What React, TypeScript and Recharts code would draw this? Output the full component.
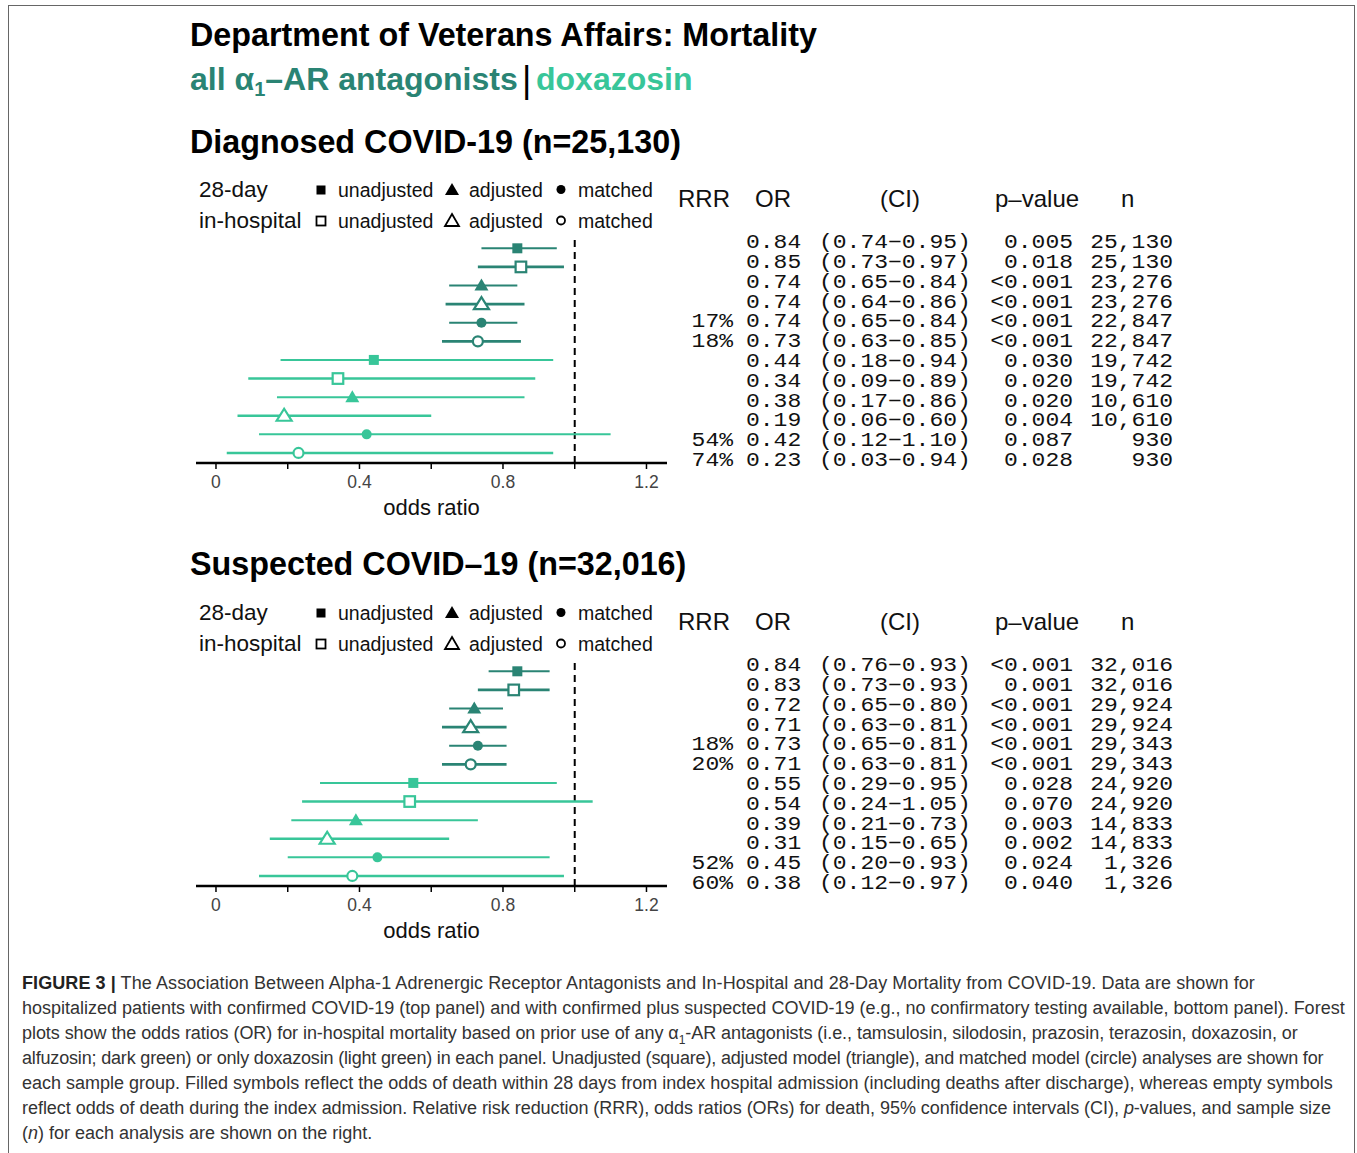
import React from 'react';
import { ScatterChart, Scatter, XAxis, YAxis, ErrorBar, ReferenceLine, Legend } from 'recharts';

const DARK = '#2a8474';
const LIGHT = '#38c699';
const SANS = "'Liberation Sans', Arial, sans-serif";
const MONO = "'Liberation Mono', 'Courier New', monospace";

// row layout, top to bottom (same in both panels)
const rowGroups = ['all', 'all', 'all', 'all', 'all', 'all', 'dox', 'dox', 'dox', 'dox', 'dox', 'dox'];
const rowPeriods = ['28-day', 'in-hospital', '28-day', 'in-hospital', '28-day', 'in-hospital',
  '28-day', 'in-hospital', '28-day', 'in-hospital', '28-day', 'in-hospital'];
const rowModels = ['unadjusted', 'unadjusted', 'adjusted', 'adjusted', 'matched', 'matched',
  'unadjusted', 'unadjusted', 'adjusted', 'adjusted', 'matched', 'matched'];

// Diagnosed COVID-19
const diagnosedOR = [0.84, 0.85, 0.74, 0.74, 0.74, 0.73, 0.44, 0.34, 0.38, 0.19, 0.42, 0.23];
const diagnosedLow = [0.74, 0.73, 0.65, 0.64, 0.65, 0.63, 0.18, 0.09, 0.17, 0.06, 0.12, 0.03];
const diagnosedHigh = [0.95, 0.97, 0.84, 0.86, 0.84, 0.85, 0.94, 0.89, 0.86, 0.60, 1.10, 0.94];
const diagnosedRRR = ['', '', '', '', '17%', '18%', '', '', '', '', '54%', '74%'];
const diagnosedP = ['0.005', '0.018', '<0.001', '<0.001', '<0.001', '<0.001', '0.030', '0.020', '0.020', '0.004', '0.087', '0.028'];
const diagnosedN = ['25,130', '25,130', '23,276', '23,276', '22,847', '22,847', '19,742', '19,742', '10,610', '10,610', '930', '930'];

// Suspected COVID-19
const suspectedOR = [0.84, 0.83, 0.72, 0.71, 0.73, 0.71, 0.55, 0.54, 0.39, 0.31, 0.45, 0.38];
const suspectedLow = [0.76, 0.73, 0.65, 0.63, 0.65, 0.63, 0.29, 0.24, 0.21, 0.15, 0.20, 0.12];
const suspectedHigh = [0.93, 0.93, 0.80, 0.81, 0.81, 0.81, 0.95, 1.05, 0.73, 0.65, 0.93, 0.97];
const suspectedRRR = ['', '', '', '', '18%', '20%', '', '', '', '', '52%', '60%'];
const suspectedP = ['<0.001', '0.001', '<0.001', '<0.001', '<0.001', '<0.001', '0.028', '0.070', '0.003', '0.002', '0.024', '0.040'];
const suspectedN = ['32,016', '32,016', '29,924', '29,924', '29,343', '29,343', '24,920', '24,920', '14,833', '14,833', '1,326', '1,326'];

const oddsTicks = [0, 0.2, 0.4, 0.6, 0.8, 1, 1.2];
const oddsLabels = ['0', '', '0.4', '', '0.8', '', '1.2'];
const rowTicks = [1, 2, 3, 4, 5, 6, 7, 8, 9, 10, 11, 12];

const seriesDefs = [
  { group: 'all', period: '28-day', color: DARK, open: false },
  { group: 'all', period: 'in-hospital', color: DARK, open: true },
  { group: 'dox', period: '28-day', color: LIGHT, open: false },
  { group: 'dox', period: 'in-hospital', color: LIGHT, open: true },
];

type Row = { row: number; x: number; ci: [number, number]; model: string; period: string; group: string };

function buildRows(or: number[], lo: number[], hi: number[]): Row[] {
  return or.map((v, i) => ({
    row: i + 1,
    x: v,
    ci: [v - lo[i], hi[i] - v],
    model: rowModels[i],
    period: rowPeriods[i],
    group: rowGroups[i],
  }));
}

function Marker({ cx, cy, model, color, open }: any) {
  if (cx == null || cy == null) return null;
  const fill = open ? '#fff' : color;
  const sw = open ? 2.2 : 0;
  if (model === 'unadjusted') {
    const h = open ? 5.3 : 5;
    return <rect x={cx - h} y={cy - h} width={h * 2} height={h * 2} fill={fill} stroke={color} strokeWidth={sw} />;
  }
  if (model === 'adjusted') {
    const w = open ? 7.5 : 7;
    return <polygon points={`${cx},${cy - 7} ${cx + w},${cy + 5} ${cx - w},${cy + 5}`} fill={fill} stroke={color} strokeWidth={sw} strokeLinejoin="miter" />;
  }
  return <circle cx={cx} cy={cy} r={5} fill={fill} stroke={color} strokeWidth={sw} />;
}

function LegendSymbol({ x, y, model, open }: any) {
  const fill = open ? '#fff' : '#000';
  const sw = open ? 1.8 : 0;
  if (model === 'unadjusted') return <rect x={x - 4.5} y={y - 4.5} width={9} height={9} fill={fill} stroke="#000" strokeWidth={sw} />;
  if (model === 'adjusted') return <polygon points={`${x},${y - 7} ${x + 7},${y + 5} ${x - 7},${y + 5}`} fill={fill} stroke="#000" strokeWidth={sw} />;
  return <circle cx={x} cy={y - 0.5} r={open ? 4 : 4.5} fill={fill} stroke="#000" strokeWidth={sw} />;
}

function LegendBlock() {
  const rows = [
    { label: '28-day', y: 32, open: false },
    { label: 'in-hospital', y: 63, open: true },
  ];
  const items = [
    { model: 'unadjusted', sx: 133, tx: 150 },
    { model: 'adjusted', sx: 264, tx: 281 },
    { model: 'matched', sx: 373, tx: 390 },
  ];
  return (
    <svg width={989} height={75} style={{ display: 'block', overflow: 'visible' }} fontFamily={SANS}>
      {rows.map((r) => (
        <g key={r.label}>
          <text x={11} y={r.y} fontSize={22.5} fill="#111">{r.label}</text>
          {items.map((it) => (
            <g key={it.model}>
              <LegendSymbol x={it.sx} y={r.y - 7} model={it.model} open={r.open} />
              <text x={it.tx} y={r.y} fontSize={19.5} fill="#111">{it.model}</text>
            </g>
          ))}
        </g>
      ))}
      <g fontSize={24} fill="#111">
        <text x={490} y={42}>RRR</text>
        <text x={567} y={42}>OR</text>
        <text x={692} y={42}>(CI)</text>
        <text x={807} y={42}>p–value</text>
        <text x={933} y={42}>n</text>
      </g>
    </svg>
  );
}

// monospace cell, horizontally stretched like the original typewriter columns
function Cell({ x, y, anchor, children }: any) {
  return (
    <text transform={`translate(${x},${y}) scale(1.18,1)`} textAnchor={anchor || 'start'}>{children}</text>
  );
}

function TableTick({ x, y, payload, or, lo, hi, rrr, p, n }: any) {
  const i = Math.round(payload.value) - 1;
  if (i < 0 || i >= or.length) return null;
  const by = y + 6;
  return (
    <g fontFamily={MONO} fontSize={19.5} fill="#111">
      <Cell x={x + 66} y={by} anchor="end">{rrr[i]}</Cell>
      <Cell x={x + 79} y={by}>{or[i].toFixed(2)}</Cell>
      <Cell x={x + 152} y={by}>{`(${lo[i].toFixed(2)}−${hi[i].toFixed(2)})`}</Cell>
      <Cell x={x + 406} y={by} anchor="end">{p[i]}</Cell>
      <Cell x={x + 506} y={by} anchor="end">{n[i]}</Cell>
    </g>
  );
}

function ForestPanel({ offset, or, lo, hi, rrr, p, n }: any) {
  const data = buildRows(or, lo, hi);
  return (
    <div style={{ position: 'absolute', left: 188, top: 165 + offset, fontFamily: SANS }}>
      <ScatterChart width={989} height={358} margin={{ top: 74, right: 0, bottom: 0, left: 8 }}>
        <XAxis
          dataKey="x"
          type="number"
          domain={[-0.0557, 1.2572]}
          allowDataOverflow
          ticks={oddsTicks}
          interval={0}
          tickFormatter={(v: number) => oddsLabels[oddsTicks.findIndex((t) => Math.abs(t - v) < 1e-6)] ?? ''}
          tick={{ fill: '#444', fontSize: 17.5 }}
          axisLine={{ stroke: '#000', strokeWidth: 2.5 }}
          tickLine={{ stroke: '#000', strokeWidth: 1.5 }}
          tickSize={6}
          tickMargin={7}
          height={60}
          label={{ value: 'odds ratio', position: 'insideBottom', offset: 8, fill: '#111', fontSize: 22 }}
        />
        <YAxis yAxisId="rows" dataKey="row" type="number" domain={[0.5, 12.54]} reversed allowDataOverflow hide />
        <YAxis
          yAxisId="table"
          orientation="right"
          type="number"
          domain={[0.8332, 12.158]}
          reversed
          allowDataOverflow
          ticks={rowTicks}
          interval={0}
          width={510}
          axisLine={false}
          tickLine={false}
          tickSize={0}
          tickMargin={0}
          tick={(props: any) => <TableTick {...props} or={or} lo={lo} hi={hi} rrr={rrr} p={p} n={n} />}
        />
        <ReferenceLine yAxisId="rows" x={1} stroke="#000" strokeWidth={2} strokeDasharray="7 5" />
        {seriesDefs.map((s) => (
          <Scatter
            key={s.group + s.period}
            yAxisId="rows"
            data={data.filter((d) => d.group === s.group && d.period === s.period)}
            isAnimationActive={false}
            shape={(props: any) => <Marker cx={props.cx} cy={props.cy} model={props.payload?.model} color={s.color} open={s.open} />}
          >
            <ErrorBar dataKey="ci" direction="x" width={0} stroke={s.color} strokeWidth={s.open ? 2.6 : 2} />
          </Scatter>
        ))}
        <Legend
          layout="horizontal"
          verticalAlign="middle"
          align="center"
          wrapperStyle={{ position: 'absolute', left: 0, top: 0, width: 989, height: 75 }}
          content={() => <LegendBlock />}
        />
      </ScatterChart>
    </div>
  );
}

export default function App() {
  return (
    <div style={{ position: 'absolute', left: 0, top: 0, width: 1357, height: 1153, background: '#fff', fontFamily: SANS, overflow: 'hidden' }}>
      <div style={{ position: 'absolute', left: 8, top: 5, width: 1347, height: 1170, border: '1.5px solid #666', boxSizing: 'border-box' }} />
      <svg width={1357} height={620} style={{ position: 'absolute', left: 0, top: 0 }} fontFamily={SANS} fontWeight="bold">
        <text x={190} y={46} fontSize={32.3} fill="#000">Department of Veterans Affairs: Mortality</text>
        <text x={190} y={90} fontSize={32} fill={DARK}>
          all α<tspan fontSize={20} dy={6}>1</tspan><tspan dy={-6}>–AR antagonists</tspan>
        </text>
        <text x={522} y={92} fontSize={36} fontWeight="normal" fill="#000">|</text>
        <text x={536} y={90} fontSize={32} fill={LIGHT}>doxazosin</text>
        <text x={190} y={153} fontSize={32.3} fill="#000">Diagnosed COVID-19 (n=25,130)</text>
        <text x={190} y={575} fontSize={32.3} fill="#000">Suspected COVID–19 (n=32,016)</text>
      </svg>
      <ForestPanel offset={0} or={diagnosedOR} lo={diagnosedLow} hi={diagnosedHigh} rrr={diagnosedRRR} p={diagnosedP} n={diagnosedN} />
      <ForestPanel offset={423} or={suspectedOR} lo={suspectedLow} hi={suspectedHigh} rrr={suspectedRRR} p={suspectedP} n={suspectedN} />
      <div style={{ position: 'absolute', left: 22, top: 971, fontSize: 18, lineHeight: '25px', color: '#333', whiteSpace: 'nowrap' }}>
        <div style={{ letterSpacing: 0.08 }}><b style={{ color: '#222' }}>FIGURE 3 |</b> The Association Between Alpha-1 Adrenergic Receptor Antagonists and In-Hospital and 28-Day Mortality from COVID-19. Data are shown for</div>
        <div>hospitalized patients with confirmed COVID-19 (top panel) and with confirmed plus suspected COVID-19 (e.g., no confirmatory testing available, bottom panel). Forest</div>
        <div style={{ letterSpacing: -0.06 }}>plots show the odds ratios (OR) for in-hospital mortality based on prior use of any α<sub style={{ fontSize: 12, lineHeight: 0 }}>1</sub>-AR antagonists (i.e., tamsulosin, silodosin, prazosin, terazosin, doxazosin, or</div>
        <div style={{ letterSpacing: -0.17 }}>alfuzosin; dark green) or only doxazosin (light green) in each panel. Unadjusted (square), adjusted model (triangle), and matched model (circle) analyses are shown for</div>
        <div>each sample group. Filled symbols reflect the odds of death within 28 days from index hospital admission (including deaths after discharge), whereas empty symbols</div>
        <div style={{ letterSpacing: -0.04 }}>reflect odds of death during the index admission. Relative risk reduction (RRR), odds ratios (ORs) for death, 95% confidence intervals (CI), <i>p</i>-values, and sample size</div>
        <div>(<i>n</i>) for each analysis are shown on the right.</div>
      </div>
    </div>
  );
}
